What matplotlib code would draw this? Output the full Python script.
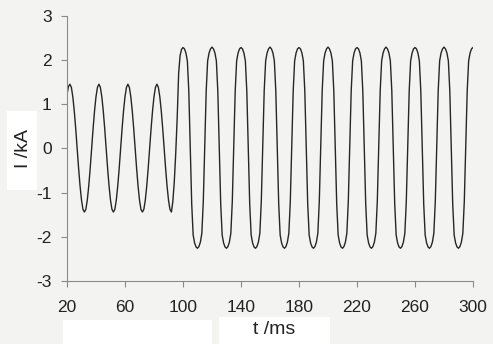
import matplotlib
matplotlib.use("Agg")
import matplotlib.pyplot as plt
from matplotlib.patches import Rectangle
import numpy as np

# time axis, 1 ms samples from 20 to 300 ms
t_ms = np.arange(20, 301)

# current in kA at 1 ms steps
i_before = [
    1.22, 1.40, 1.45, 1.38, 1.17, 0.85, 0.45, 0.00, -0.45, -0.85,
    -1.17, -1.38, -1.44, -1.38, -1.17, -0.85, -0.45, 0.00, 0.45, 0.85,
    1.17, 1.38, 1.45, 1.38, 1.17, 0.85, 0.45, 0.00, -0.45, -0.85,
    -1.17, -1.38, -1.44, -1.38, -1.17, -0.85, -0.45, 0.00, 0.45, 0.85,
    1.17, 1.38, 1.45, 1.38, 1.17, 0.85, 0.45, 0.00, -0.45, -0.85,
    -1.17, -1.38, -1.44, -1.38, -1.17, -0.85, -0.45, 0.00, 0.45, 0.85,
    1.17, 1.38, 1.45, 1.38, 1.17, 0.85, 0.45, 0.00, -0.45, -0.85,
    -1.17, -1.38, -1.44,
]
i_switch = [-1.20, -0.75, -0.10, 0.70, 1.70, 2.10, 2.24]
i_after = [
    2.28, 2.25, 2.16, 1.98, 1.30, 0.05, -1.25, -1.96, -2.14, -2.23,
    -2.26, -2.22, -2.12, -1.92, -1.20, 0.05, 1.30, 1.98, 2.16, 2.25,
    2.29, 2.25, 2.16, 1.98, 1.30, 0.05, -1.25, -1.96, -2.14, -2.23,
    -2.26, -2.22, -2.12, -1.92, -1.20, 0.05, 1.30, 1.98, 2.16, 2.25,
    2.28, 2.25, 2.16, 1.98, 1.30, 0.05, -1.25, -1.96, -2.14, -2.23,
    -2.26, -2.22, -2.12, -1.92, -1.20, 0.05, 1.30, 1.98, 2.16, 2.25,
    2.29, 2.25, 2.16, 1.98, 1.30, 0.05, -1.25, -1.96, -2.14, -2.23,
    -2.26, -2.22, -2.12, -1.92, -1.20, 0.05, 1.30, 1.98, 2.16, 2.25,
    2.28, 2.25, 2.16, 1.98, 1.30, 0.05, -1.25, -1.96, -2.14, -2.23,
    -2.26, -2.22, -2.12, -1.92, -1.20, 0.05, 1.30, 1.98, 2.16, 2.25,
    2.29, 2.25, 2.16, 1.98, 1.30, 0.05, -1.25, -1.96, -2.14, -2.23,
    -2.26, -2.22, -2.12, -1.92, -1.20, 0.05, 1.30, 1.98, 2.16, 2.25,
    2.28, 2.25, 2.16, 1.98, 1.30, 0.05, -1.25, -1.96, -2.14, -2.23,
    -2.26, -2.22, -2.12, -1.92, -1.20, 0.05, 1.30, 1.98, 2.16, 2.25,
    2.29, 2.25, 2.16, 1.98, 1.30, 0.05, -1.25, -1.96, -2.14, -2.23,
    -2.26, -2.22, -2.12, -1.92, -1.20, 0.05, 1.30, 1.98, 2.16, 2.25,
    2.28, 2.25, 2.16, 1.98, 1.30, 0.05, -1.25, -1.96, -2.14, -2.23,
    -2.26, -2.22, -2.12, -1.92, -1.20, 0.05, 1.30, 1.98, 2.16, 2.25,
    2.29, 2.25, 2.16, 1.98, 1.30, 0.05, -1.25, -1.96, -2.14, -2.23,
    -2.26, -2.22, -2.12, -1.92, -1.20, 0.05, 1.30, 1.98, 2.16, 2.25,
    2.28,
]
current = np.array(i_before + i_switch + i_after)

x_ticks = [20, 60, 100, 140, 180, 220, 260, 300]
y_ticks = [-3, -2, -1, 0, 1, 2, 3]

plt.rcParams['font.family'] = ['Liberation Sans', 'DejaVu Sans']
plt.rcParams['axes.unicode_minus'] = False

W, H = 493, 344
bg = '#f3f3f1'
fig = plt.figure(figsize=(W / 100, H / 100), dpi=100, facecolor=bg)

# white label boxes (pixel boxes: x, y-from-top, w, h)
for x0, y0, w, h in [(7, 111, 30, 79), (63, 320, 149, 24), (219, 317, 111, 27)]:
    fig.add_artist(Rectangle((x0 / W, 1 - (y0 + h) / H), w / W, h / H,
                             transform=fig.transFigure, facecolor='white',
                             edgecolor='none', zorder=0))

ax = fig.add_axes([67 / W, 1 - 281 / H, (473 - 67) / W, (281 - 15.7) / H])
ax.set_facecolor('none')
ax.plot(t_ms, current, color='#262626', lw=1.0)

ax.set_xlim(20, 300)
ax.set_ylim(-3, 3)
ax.set_xticks(x_ticks)
ax.set_yticks(y_ticks)
for s in ['top', 'right']:
    ax.spines[s].set_visible(False)
for s in ['left', 'bottom']:
    ax.spines[s].set_color('#8a8a8a')
    ax.spines[s].set_linewidth(0.8)
ax.tick_params(direction='out', length=4, width=0.8, color='#8a8a8a',
               labelsize=12.5, labelcolor='#222222')
ax.tick_params(axis='x', pad=9.5)
ax.tick_params(axis='y', pad=7)

fig.text(24 / W, 1 - 149 / H, 'I /kA', rotation=90, ha='center', va='center',
         fontsize=14, color='#222222')
fig.text(274 / W, 1 - 329 / H, 't /ms', ha='center', va='center',
         fontsize=14, color='#222222')

fig.savefig('out.png', dpi=100, facecolor=bg)
